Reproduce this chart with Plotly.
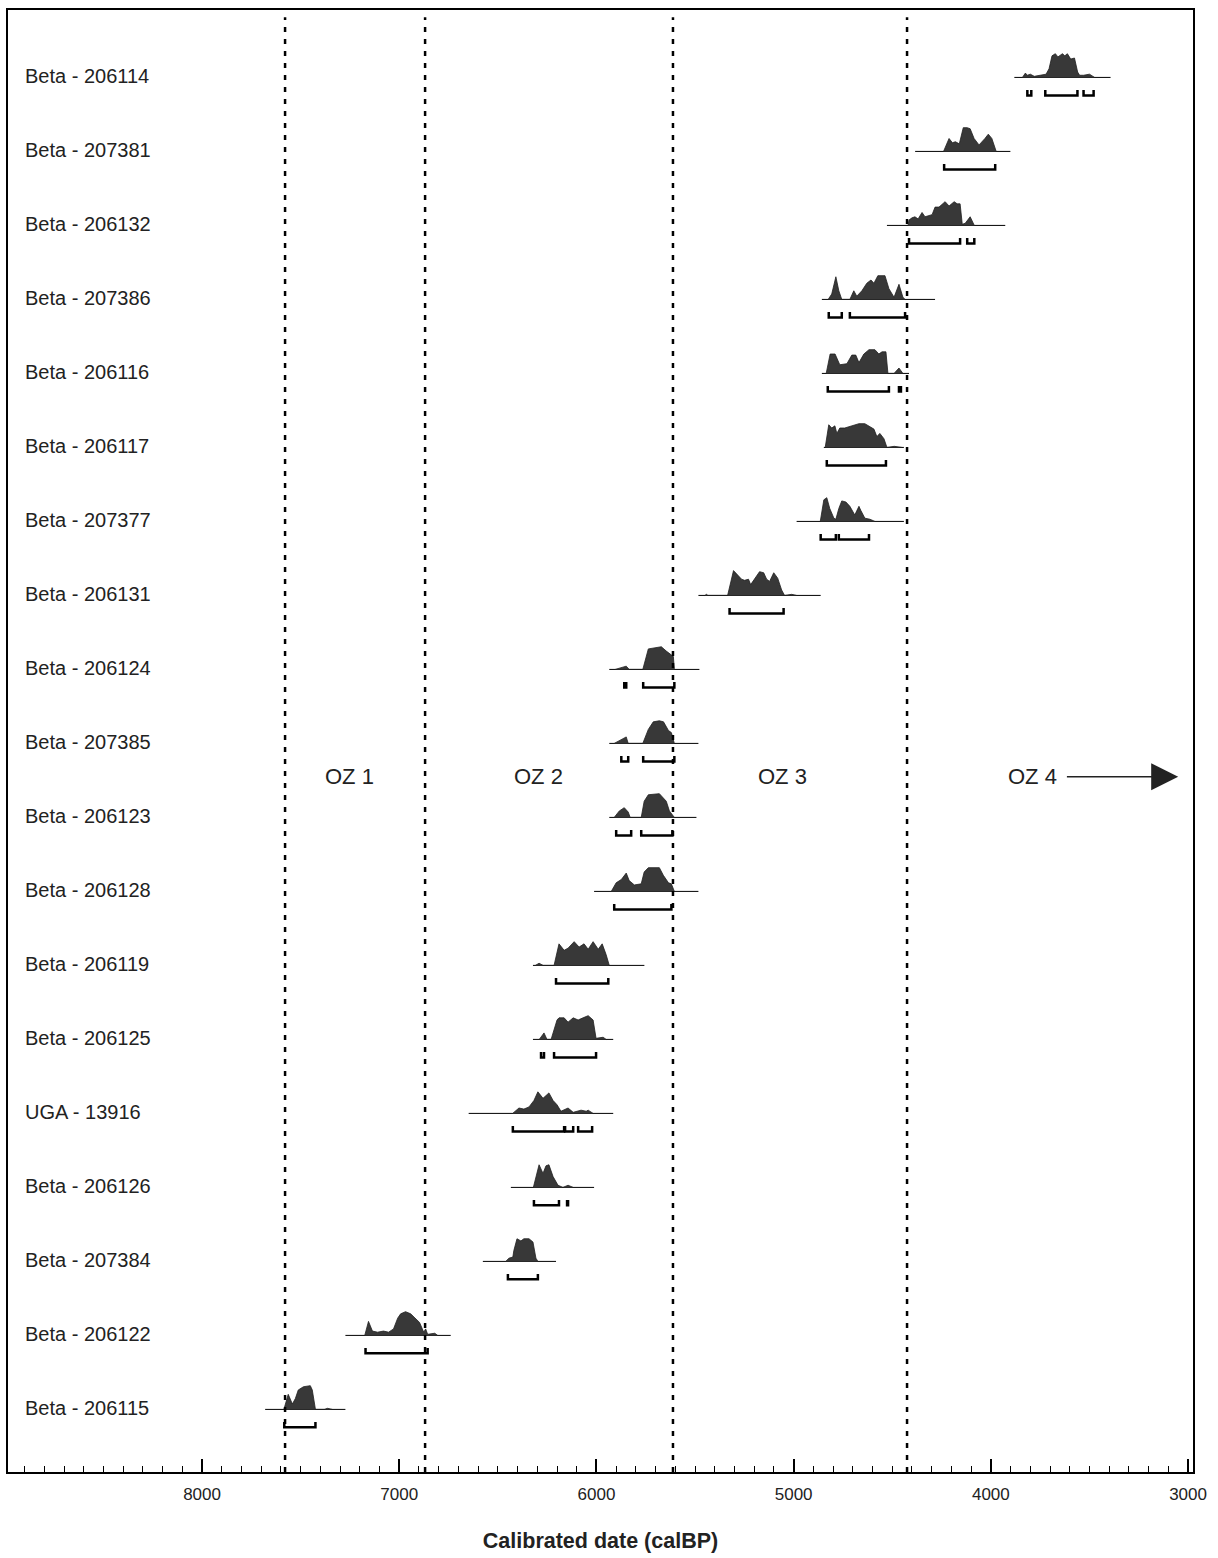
import plotly.graph_objects as go

# ---------------- data (calBP dates, relative probability) ----------------
labels = ["Beta - 206114", "Beta - 207381", "Beta - 206132", "Beta - 207386",
          "Beta - 206116", "Beta - 206117", "Beta - 207377", "Beta - 206131",
          "Beta - 206124", "Beta - 207385", "Beta - 206123", "Beta - 206128",
          "Beta - 206119", "Beta - 206125", "UGA - 13916", "Beta - 206126",
          "Beta - 207384", "Beta - 206122", "Beta - 206115"]

# extent of the thin baseline drawn under each distribution
line_start = [3881, 4384, 4527, 4857, 4857, 4847, 4985, 5483, 5935, 5935,
              5935, 6012, 6322, 6322, 6648, 6434, 6576, 7273, 7680]
line_end = [3393, 3901, 3927, 4283, 4415, 4441, 4441, 4863, 5478, 5483,
            5493, 5483, 5757, 5915, 5915, 6012, 6205, 6739, 7273]

# probability profiles: (calBP, relative probability)
p_206114 = [(3840, 0), (3825, 4), (3815, 2), (3800, 3), (3780, 1), (3720, 3), (3705, 8),
            (3690, 20), (3673, 22), (3660, 19), (3637, 22), (3625, 20), (3612, 22),
            (3595, 17), (3576, 18), (3560, 5), (3550, 2), (3530, 2), (3500, 3), (3474, 0)]
p_207381 = [(4240, 0), (4212, 12), (4195, 8), (4180, 9), (4160, 7), (4140, 22), (4120, 22),
            (4105, 21), (4085, 12), (4060, 6), (4030, 12), (4013, 16), (3995, 12), (3973, 0)]
p_206132 = [(4420, 0), (4415, 5), (4400, 7), (4385, 8), (4369, 6), (4349, 12), (4334, 8),
            (4298, 10), (4283, 17), (4263, 17), (4232, 22), (4212, 18), (4186, 22),
            (4171, 20), (4156, 20), (4145, 1), (4130, 2), (4105, 8), (4084, 0)]
p_207386 = [(4825, 0), (4807, 5), (4786, 21), (4771, 8), (4756, 0), (4715, 0), (4695, 8),
            (4680, 3), (4654, 8), (4629, 15), (4608, 18), (4593, 15), (4573, 22),
            (4537, 22), (4517, 10), (4491, 2), (4466, 14), (4446, 2), (4435, 0)]
p_206116 = [(4835, 0), (4815, 18), (4790, 18), (4766, 8), (4730, 9), (4705, 17), (4685, 17),
            (4669, 10), (4644, 18), (4618, 22), (4588, 22), (4568, 18), (4552, 20),
            (4532, 20), (4522, 0), (4491, 0), (4466, 5), (4446, 0)]
p_206117 = [(4840, 0), (4822, 21), (4807, 18), (4791, 20), (4781, 13), (4766, 18), (4741, 18),
            (4705, 20), (4669, 22), (4639, 22), (4618, 20), (4593, 17), (4578, 10),
            (4563, 13), (4542, 8), (4527, 0), (4490, 1), (4451, 0)]
p_207377 = [(4865, 0), (4847, 20), (4832, 22), (4817, 12), (4796, 3), (4786, 2), (4771, 12),
            (4756, 19), (4735, 18), (4715, 14), (4690, 6), (4669, 14), (4659, 10),
            (4639, 3), (4613, 2), (4588, 0)]
p_206131 = [(5450, 0), (5442, 1), (5435, 0), (5335, 0), (5305, 23), (5279, 18), (5264, 15),
            (5249, 14), (5229, 15), (5218, 10), (5198, 15), (5173, 22), (5152, 21),
            (5137, 15), (5122, 13), (5101, 21), (5081, 16), (5061, 5), (5046, 0),
            (5010, 1), (4985, 0)]
p_206124 = [(5905, 0), (5865, 2), (5849, 3), (5834, 0), (5765, 0), (5737, 19), (5712, 20),
            (5685, 21), (5671, 21), (5646, 17), (5630, 15), (5610, 12), (5605, 0)]
p_207385 = [(5910, 0), (5864, 4), (5849, 6), (5839, 0), (5765, 0), (5737, 13), (5712, 20),
            (5681, 21), (5660, 20), (5635, 12), (5620, 10), (5605, 0)]
p_206123 = [(5910, 0), (5884, 6), (5859, 9), (5839, 5), (5829, 0), (5773, 0), (5758, 15),
            (5737, 21), (5681, 22), (5646, 15), (5630, 6), (5605, 0)]
p_206128 = [(5925, 0), (5900, 8), (5874, 11), (5849, 17), (5834, 10), (5808, 6), (5773, 7),
            (5758, 18), (5737, 22), (5681, 22), (5661, 15), (5635, 8), (5620, 7), (5605, 0)]
p_206119 = [(6310, 0), (6291, 2), (6270, 0), (6215, 0), (6190, 20), (6164, 14), (6144, 16),
            (6113, 22), (6088, 17), (6063, 20), (6042, 15), (6017, 22), (5991, 15),
            (5971, 20), (5951, 10), (5935, 0)]
p_206125 = [(6290, 0), (6266, 6), (6251, 0), (6230, 0), (6200, 18), (6190, 20), (6164, 20),
            (6144, 16), (6118, 20), (6093, 18), (6068, 20), (6042, 22), (6017, 18),
            (6002, 1), (5966, 2), (5951, 0)]
p_13916 = [(6425, 0), (6393, 5), (6368, 4), (6342, 6), (6317, 12), (6297, 20), (6271, 14),
           (6241, 19), (6220, 12), (6200, 8), (6180, 2), (6144, 5), (6118, 1), (6078, 3),
           (6052, 2), (6042, 3), (6017, 0)]
p_206126 = [(6320, 0), (6307, 10), (6291, 21), (6271, 13), (6256, 20), (6241, 21), (6220, 10),
            (6195, 2), (6170, 0), (6144, 2), (6118, 0)]
p_207384 = [(6460, 0), (6444, 3), (6424, 4), (6419, 10), (6403, 21), (6383, 19), (6368, 21),
            (6342, 21), (6322, 18), (6307, 3), (6297, 0)]
p_206122 = [(7175, 0), (7156, 13), (7136, 4), (7110, 3), (7080, 4), (7054, 3), (7029, 6),
            (7008, 16), (6993, 20), (6968, 22), (6942, 20), (6917, 15), (6897, 12),
            (6876, 3), (6866, 6), (6856, 1), (6820, 2), (6805, 0)]
p_206115 = [(7585, 0), (7563, 14), (7542, 5), (7527, 10), (7512, 18), (7486, 21), (7451, 22),
            (7441, 18), (7425, 0), (7380, 0), (7364, 1), (7339, 0)]

profiles = [p_206114, p_207381, p_206132, p_207386, p_206116, p_206117, p_207377,
            p_206131, p_206124, p_207385, p_206123, p_206128, p_206119, p_206125,
            p_13916, p_206126, p_207384, p_206122, p_206115]

# calibrated ranges (calBP from, to)
ranges = [
    [(3815, 3795), (3724, 3561), (3530, 3479)],
    [(4237, 3978)],
    [(4415, 4156), (4120, 4084)],
    [(4822, 4756), (4715, 4435)],
    [(4827, 4517), (4466, 4456)],
    [(4832, 4532)],
    [(4863, 4786), (4771, 4618)],
    [(5325, 5051)],
    [(5859, 5849), (5763, 5605)],
    [(5874, 5839), (5763, 5605)],
    [(5900, 5824), (5773, 5615)],
    [(5910, 5620)],
    [(6205, 5940)],
    [(6281, 6266), (6215, 6002)],
    [(6424, 6164), (6159, 6118), (6093, 6022)],
    [(6317, 6190), (6149, 6144)],
    [(6449, 6297)],
    [(7171, 6856)],
    [(7583, 7425)],
]

zone_bounds = [7579, 6869, 5612, 4425]
zone_labels = ["OZ 1", "OZ 2", "OZ 3", "OZ 4"]
zone_label_x = [7251, 6294, 5055, 3789]

x_ticks = [8000, 7000, 6000, 5000, 4000, 3000]

# ---------------- figure ----------------
PX = 1 / 74.1          # row units per pixel
AMP = 1.08             # profile amplitude factor
FONT = "Arial, Liberation Sans, sans-serif"

fig = go.Figure()

# baselines
bx, by = [], []
for i, (a, b) in enumerate(zip(line_start, line_end)):
    bx += [a, b, None]
    by += [i, i, None]
fig.add_trace(go.Scatter(x=bx, y=by, mode="lines",
                         line=dict(color="black", width=1), hoverinfo="skip"))

# distributions
for i, prof in enumerate(profiles):
    xs = [d for d, h in prof]
    ys = [i - h * AMP * PX for d, h in prof]
    fig.add_trace(go.Scatter(x=xs, y=ys, mode="lines", fill="toself",
                             fillcolor="#383838",
                             line=dict(color="#202020", width=0.8),
                             hoverinfo="skip"))

# range brackets
rx, ry = [], []
d1, d2 = 12.5 * PX, 18 * PX
for i, rr in enumerate(ranges):
    for a, b in rr:
        rx += [a, a, b, b, None]
        ry += [i + d1, i + d2, i + d2, i + d1, None]
fig.add_trace(go.Scatter(x=rx, y=ry, mode="lines",
                         line=dict(color="black", width=2.5), hoverinfo="skip"))

# zone boundaries
for xb in zone_bounds:
    fig.add_shape(type="line", x0=xb, x1=xb, xref="x", yref="paper", y0=0, y1=0.995,
                  line=dict(color="black", width=2.5, dash="5px,7px"))

# sample labels
for i, lab in enumerate(labels):
    fig.add_annotation(x=0.0127, xref="paper", y=i - 0.02, yref="y", text=lab,
                       showarrow=False, xanchor="left", yanchor="middle",
                       font=dict(family=FONT, size=20, color="#222"))

# zone labels
for xl, zl in zip(zone_label_x, zone_labels):
    fig.add_annotation(x=xl, y=9.45, text=zl, showarrow=False,
                       font=dict(family=FONT, size=22, color="#222"))

# arrow for OZ 4
fig.add_annotation(x=3050, y=9.45, ax=3622, ay=9.45, axref="x", ayref="y",
                   xref="x", yref="y", text="", showarrow=True,
                   arrowhead=2, arrowsize=3.6, arrowwidth=1.5, arrowcolor="#222")

fig.update_layout(
    width=1218, height=1558,
    margin=dict(l=8, r=25, t=8, b=86),
    paper_bgcolor="white", plot_bgcolor="white",
    showlegend=False,
    font=dict(family=FONT, color="#222"),
    xaxis=dict(range=[8984, 2975], tickmode="array", tickvals=x_ticks,
               ticks="inside", ticklen=13, tickwidth=1.5, tickcolor="black",
               showline=True, linewidth=2, linecolor="black", mirror=True,
               showgrid=False, zeroline=False, ticklabelstandoff=6,
               tickfont=dict(family=FONT, size=17, color="#222"),
               minor=dict(ticks="inside", ticklen=6, tickwidth=1, tickcolor="black",
                          tickmode="linear", tick0=0, dtick=100, showgrid=False),
               title=dict(text="<b>Calibrated date (calBP)</b>", standoff=30,
                          font=dict(family=FONT, size=21.5, color="#222"))),
    yaxis=dict(range=[18.846, -0.911], showticklabels=False, ticks="",
               showline=True, linewidth=2, linecolor="black", mirror=True,
               showgrid=False, zeroline=False),
)

fig.write_html("out.html", post_script="document.body.style.margin='0px';",
               config={"displayModeBar": False})
